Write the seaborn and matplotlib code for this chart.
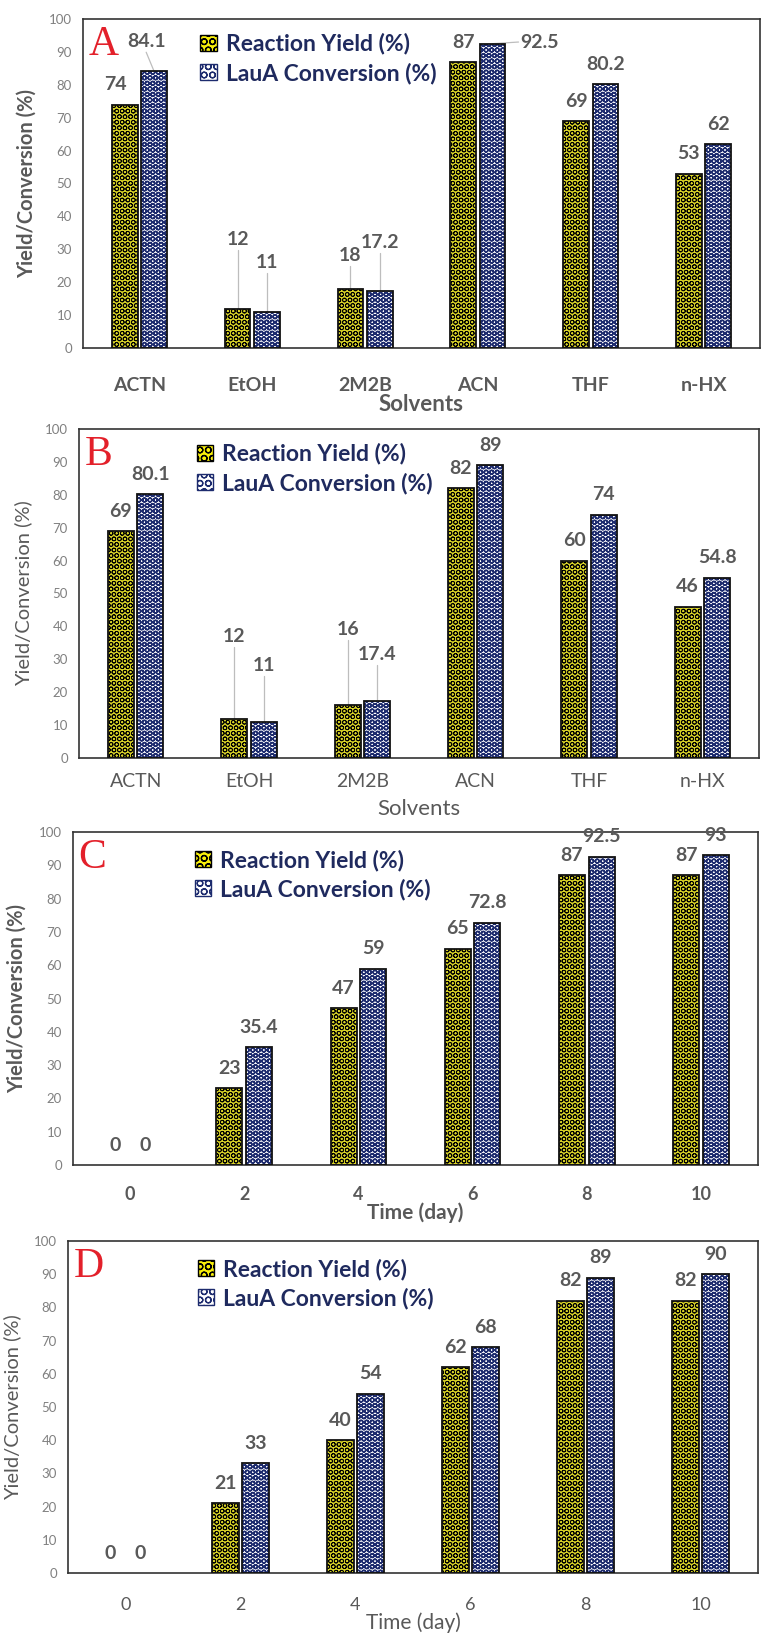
import matplotlib
matplotlib.use("Agg")
import pandas as pd
import matplotlib.pyplot as plt
import seaborn as sns
from matplotlib.patches import Patch, Rectangle

# Data
solvents = ["ACTN", "EtOH", "2M2B", "ACN", "THF", "n-HX"]
days = ["0", "2", "4", "6", "8", "10"]
series = ["Reaction Yield (%)", "LauA Conversion (%)"]

a_yield = [74, 12, 18, 87, 69, 53]
a_conv = [84.1, 11, 17.2, 92.5, 80.2, 62]
b_yield = [69, 12, 16, 82, 60, 46]
b_conv = [80.1, 11, 17.4, 89, 74, 54.8]
c_yield = [0, 23, 47, 65, 87, 87]
c_conv = [0, 35.4, 59, 72.8, 92.5, 93]
d_yield = [0, 21, 40, 62, 82, 82]
d_conv = [0, 33, 54, 68, 89, 90]

# label nudges: (series, category) -> (dx, dy, leader)
a_nudge = {(0, 0): (-0.08, 0, None), (1, 0): (-0.07, 3, "v"),
           (0, 1): (0, 15, "v"), (1, 1): (0, 9, "v"),
           (0, 2): (0, 4, "v"), (1, 2): (0, 9, "v"),
           (1, 3): (0.42, -5.5, "h")}
b_nudge = {(0, 1): (0, 19, "v"), (1, 1): (0, 11, "v"),
           (0, 2): (0, 17, "v"), (1, 2): (0, 8, "v")}

YELLOW = "#f7ee0a"
NAVY = "#1d2b6e"
GREY = "#595959"
TICK = "#808080"
LEG = "#1f2a5e"

sns.set_style("white")
plt.rcParams["font.family"] = ["Lato", "DejaVu Sans"]
plt.rcParams["hatch.linewidth"] = 0.9

fig = plt.figure(figsize=(7.74, 16.38), dpi=100)


def panel(rect, cats, yv, cv, letter, xlabel, bold, nudge, leg_xy, pads):
    ax = fig.add_axes(rect)
    df = pd.DataFrame({"cat": cats * 2, "val": yv + cv,
                       "series": [series[0]] * len(cats) + [series[1]] * len(cats)})
    sns.barplot(data=df, x="cat", y="val", hue="series", order=cats,
                hue_order=series, palette=[YELLOW, "white"], width=0.52,
                gap=0.12, legend=False, ax=ax)
    hatch_cols = ["black", NAVY]
    hatch_lw = [0.6, 1.05]
    for i, cont in enumerate(ax.containers):
        for j, bar in enumerate(cont):
            bar.set_hatch("OOO")
            bar.set_edgecolor(hatch_cols[i])
            bar.set_linewidth(0)
            if hasattr(bar, "set_hatch_linewidth"):
                bar.set_hatch_linewidth(hatch_lw[i])
            x = bar.get_x() + bar.get_width() / 2
            v = bar.get_height()
            if v > 0:
                ax.add_patch(Rectangle(bar.get_xy(), bar.get_width(), v, fill=False,
                                       edgecolor="#111111", lw=1.3, zorder=3))
            dx, dy, lead = nudge.get((i, j), (0, 0, None))
            ty = v + 6 + dy
            ax.text(x + dx, ty, f"{v:g}", ha="center", va="center", fontsize=14,
                    fontweight="bold", color=GREY, zorder=4)
            if lead == "v":
                ax.plot([x, x + dx], [v, ty - 3.2], color="#bdbdbd", lw=0.9, zorder=2)
            elif lead == "h":
                ax.plot([x, x + dx - 0.19], [v, ty], color="#bdbdbd", lw=0.9, zorder=2)

    ax.set_ylim(0, 100)
    ax.set_yticks(range(0, 101, 10))
    ax.set_xlim(-0.5, len(cats) - 0.5)
    w = "bold" if bold else "normal"
    ax.tick_params(axis="y", length=0, labelsize=9.5, labelcolor=TICK, pad=8)
    ax.tick_params(axis="x", length=0, labelsize=pads[2], labelcolor=GREY, pad=pads[0])
    for t in ax.get_xticklabels():
        t.set_fontweight(w)
    ax.set_ylabel("Yield/Conversion (%)", fontsize=14.5, fontweight=w, color=GREY, labelpad=9)
    ax.set_xlabel(xlabel, fontsize=pads[3], fontweight=w, color=GREY, labelpad=pads[1])
    for s in ax.spines.values():
        s.set_visible(True)
        s.set_color("#333333")
        s.set_linewidth(1.2)

    ax.text(0.008, 0.98, letter, transform=ax.transAxes, ha="left", va="top",
            fontsize=30, color="#e3202a", family=["Liberation Serif"])

    handles = [Patch(facecolor=YELLOW, edgecolor="black", hatch="OO", lw=1.0),
               Patch(facecolor="white", edgecolor=NAVY, hatch="OO", lw=1.0)]
    leg = ax.legend(handles, series, loc="upper left", bbox_to_anchor=leg_xy,
                    frameon=False, fontsize=16.5, handlelength=0.7, handleheight=0.7,
                    handletextpad=0.4, labelspacing=0.32, borderaxespad=0)
    for t in leg.get_texts():
        t.set_color(LEG)
        t.set_fontweight("bold")
    return ax


H = 1638.0
W = 774.0


def box(l, r, t, b):
    return [l / W, 1 - b / H, (r - l) / W, (b - t) / H]


# pads: (tick pad, xlabel pad, tick size, xlabel size)
panel(box(83, 760, 19, 348), solvents, a_yield, a_conv, "A", "Solvents", True, a_nudge,
      (0.16, 0.985), (21, 0, 14, 16))
panel(box(79, 759, 429, 758), solvents, b_yield, b_conv, "B", "Solvents", False, b_nudge,
      (0.16, 0.985), (11, 6, 14, 16))
panel(box(73, 758, 832, 1165), days, c_yield, c_conv, "C", "Time (day)", True, {},
      (0.165, 0.975), (15, 0, 13, 15))
panel(box(68, 758, 1241, 1573), days, d_yield, d_conv, "D", "Time (day)", False, {},
      (0.175, 0.975), (17, 0, 13, 15))

fig.savefig("out.png", dpi=100)
